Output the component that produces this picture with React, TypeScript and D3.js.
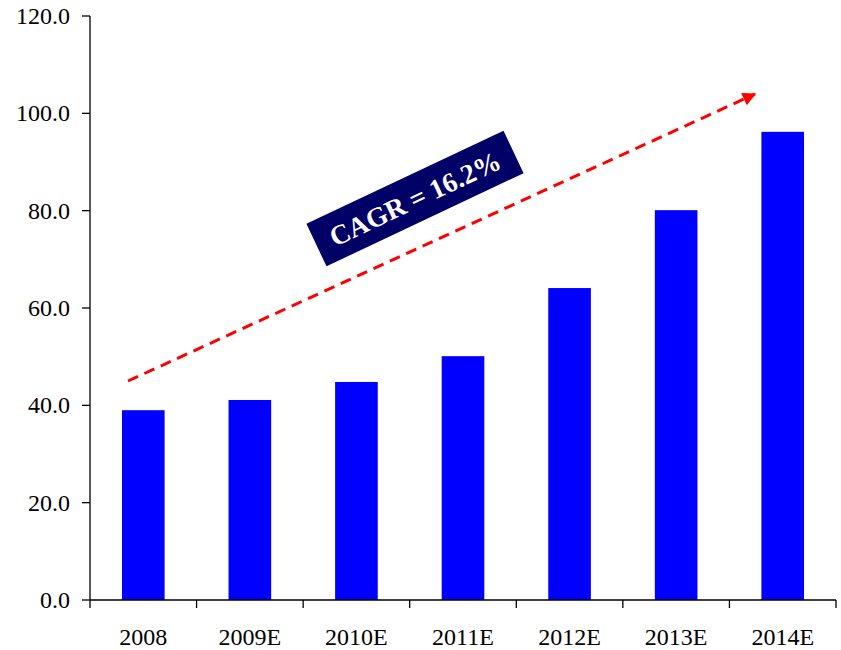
import * as d3 from "d3";
import { useEffect } from "react";

const years = ["2008", "2009E", "2010E", "2011E", "2012E", "2013E", "2014E"];
const values = [39.0, 41.1, 44.8, 50.1, 64.1, 80.1, 96.2];
const yTicks = [0, 20, 40, 60, 80, 100, 120];
const cagrLabel = "CAGR = 16.2%";

const W = 841;
const H = 650;
const left = 90;
const right = 836;
const top = 16;
const bottom = 600;
const font = "'Liberation Serif', 'Times New Roman', Times, serif";

export default function App() {
  useEffect(() => {
    document.body.style.margin = "0";
  }, []);

  const x = d3.scaleBand<string>().domain(years).range([left, right]).paddingInner(0.6).paddingOuter(0.3);
  const y = d3.scaleLinear().domain([0, 120]).range([bottom, top]);
  const step = (right - left) / years.length;
  const bounds = d3.range(years.length + 1).map((i) => left + i * step);
  const bw = x.bandwidth();
  const cx = (d: string) => (x(d) ?? 0) + bw / 2;

  // trend arrow from the first bar to beyond the last
  const a0 = [128, 381];
  const a1 = [757, 93];

  return (
    <svg width={W} height={H} style={{ display: "block", background: "#fff" }} fontFamily={font}>
      <defs>
        <marker id="head" viewBox="0 0 10 10" refX="9" refY="5" markerWidth="5" markerHeight="4.5" orient="auto" markerUnits="strokeWidth">
          <path d="M0,0 L10,5 L0,10 z" fill="#ff0000" />
        </marker>
      </defs>
      {values.map((v, i) => (
        <rect key={years[i]} x={cx(years[i]) - bw / 2} y={y(v)} width={bw} height={y(0) - y(v)} fill="#0000ff" />
      ))}
      {/* y axis */}
      <line x1={left} x2={left} y1={top} y2={bottom} stroke="#000" strokeWidth={1.3} />
      {yTicks.map((t) => (
        <g key={t}>
          <line x1={left - 8} x2={left} y1={y(t)} y2={y(t)} stroke="#000" strokeWidth={1.3} />
          <text x={70} y={y(t)} dy="0.34em" textAnchor="end" fontSize={24} fill="#000">
            {t.toFixed(1)}
          </text>
        </g>
      ))}
      {/* x axis */}
      <line x1={left} x2={right} y1={bottom} y2={bottom} stroke="#000" strokeWidth={1.3} />
      {bounds.map((b, i) => (
        <line key={i} x1={b} x2={b} y1={bottom} y2={bottom + 8} stroke="#000" strokeWidth={1.3} />
      ))}
      {years.map((d) => (
        <text key={d} x={cx(d)} y={645} textAnchor="middle" fontSize={24} fill="#000">
          {d}
        </text>
      ))}
      {/* trend */}
      <line
        x1={a0[0]}
        y1={a0[1]}
        x2={a1[0] - 2}
        y2={a1[1] + 1}
        stroke="#ff0000"
        strokeWidth={3}
        strokeDasharray="11 7"
        markerEnd="url(#head)"
      />
      <g transform={`translate(415,198.5) rotate(${-25.3})`}>
        <rect x={-109} y={-23.5} width={218} height={47} fill="#000066" />
        <text x={0} y={0} dy="0.35em" textAnchor="middle" fontSize={27.5} fontWeight="bold" fill="#fff">
          {cagrLabel}
        </text>
      </g>
    </svg>
  );
}
